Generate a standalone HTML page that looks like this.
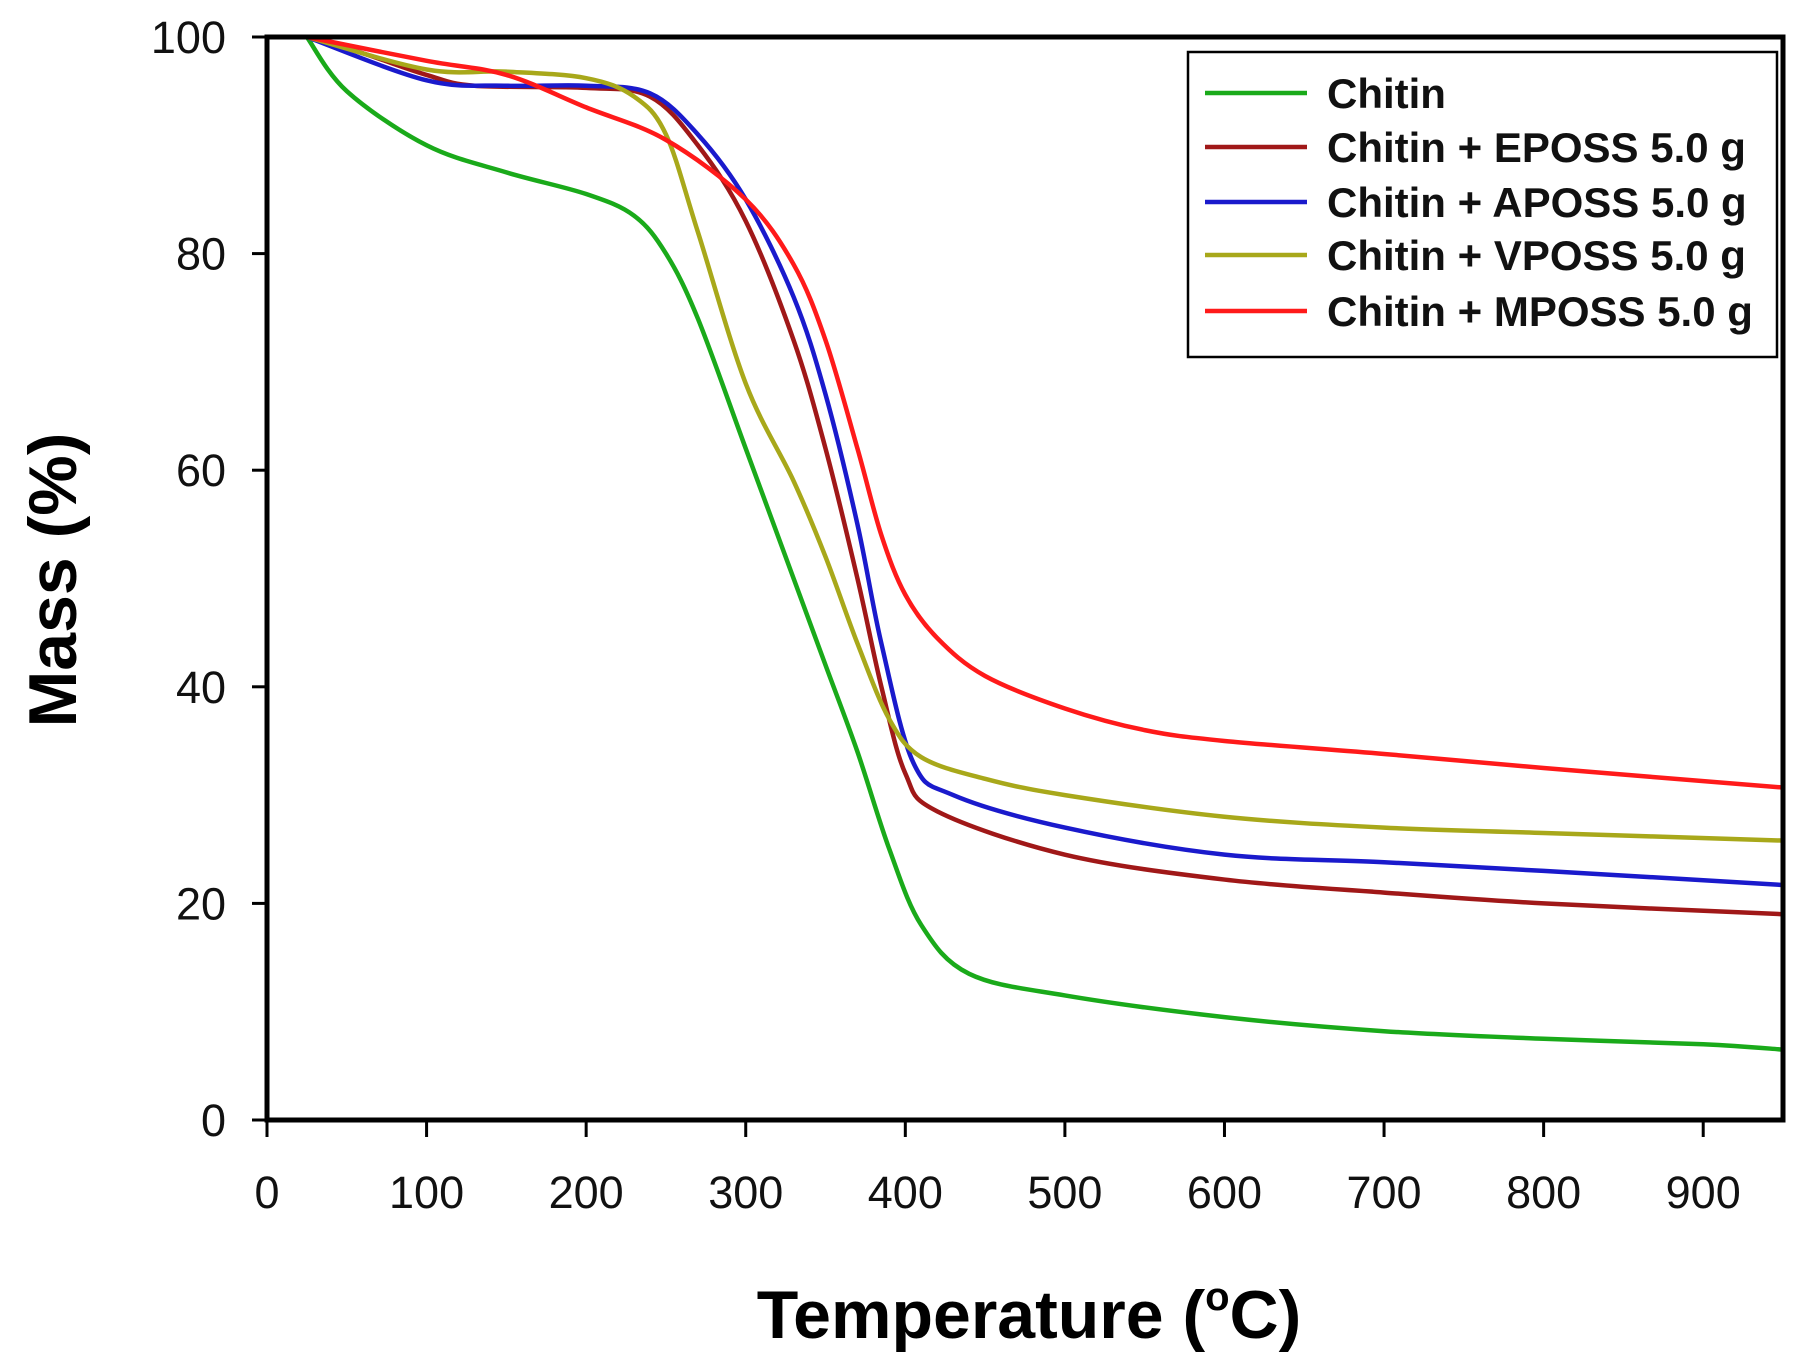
<!DOCTYPE html>
<html><head><meta charset="utf-8"><style>
html,body{margin:0;padding:0;background:#fff;}
svg{display:block;font-family:"Liberation Sans",Arial,sans-serif;}
</style></head><body>
<svg id="chart" width="1808" height="1366" viewBox="0 0 1808 1366">
<g id="plot"></g>
</svg>
<script>
const xTicks=[0,100,200,300,400,500,600,700,800,900];
const yTicks=[0,20,40,60,80,100];
const seriesNames=["Chitin","Chitin + EPOSS 5.0 g","Chitin + APOSS 5.0 g","Chitin + VPOSS 5.0 g","Chitin + MPOSS 5.0 g"];
const chitinT=[25,50,100,150,200,230,250,270,300,330,350,370,390,410,440,500,600,700,800,900,950];
const chitinM=[100,95,90,87.5,85.5,83.5,80,74,62,50,42,34,25,18,13.5,11.5,9.5,8.2,7.5,7,6.5];
const epossT=[25,60,100,130,200,240,270,300,330,350,370,385,400,420,500,600,700,800,950];
const epossM=[100,98.5,96.5,95.5,95.3,94.5,90,83,72,62,50,40,32,28.5,24.5,22.2,21,20,19];
const apossT=[25,100,150,200,240,270,300,330,350,370,385,405,430,500,600,700,800,950];
const apossM=[100,96,95.5,95.5,94.8,91,85,76,67,55,44,33,30,27,24.5,23.8,23,21.7];
const vpossT=[25,100,150,200,230,250,270,300,330,350,370,390,410,450,500,600,700,800,950];
const vpossM=[100,97,96.8,96.2,94.5,91,82,68,59,52,44,37,33.5,31.5,30,28,27,26.5,25.8];
const mpossT=[25,100,150,200,250,300,330,350,370,385,400,420,450,500,550,600,700,800,950];
const mpossM=[100,97.8,96.5,93.5,90.5,85,79,72,62,54,48.5,44.5,41,38,36,35,33.8,32.5,30.7];

const X0=267,X1=1783,Y0=1120,Y1=37,XMAX=950;
const xs=v=>X0+(v/XMAX)*(X1-X0);
const ys=v=>Y0-(v/100)*(Y0-Y1);
const NS="http://www.w3.org/2000/svg";
const svg=document.getElementById('chart');
function mk(t,a,p){const e=document.createElementNS(NS,t);for(const k in a)e.setAttribute(k,a[k]);(p||svg).appendChild(e);return e;}
function path(T,M){const P=T.map((t,i)=>[xs(t),ys(M[i])]);let d="M"+P[0][0]+","+P[0][1];
for(let i=0;i<P.length-1;i++){const p0=P[i-1]||P[i],p1=P[i],p2=P[i+1],p3=P[i+2]||p2;
d+=" C"+(p1[0]+(p2[0]-p0[0])/6)+","+(p1[1]+(p2[1]-p0[1])/6)+" "+(p2[0]-(p3[0]-p1[0])/6)+","+(p2[1]-(p3[1]-p1[1])/6)+" "+p2[0]+","+p2[1];}return d;}
const colors=["#1aaa1a","#a01818","#1a1acc","#a8a81a","#ff1a1a"];
const data=[[chitinT,chitinM],[epossT,epossM],[apossT,apossM],[vpossT,vpossM],[mpossT,mpossM]];
const keys=["chitin","eposs","aposs","vposs","mposs"];
const plot=document.getElementById('plot');
data.forEach((s,i)=>{const e=mk('path',{d:path(s[0],s[1]),fill:'none',stroke:colors[i],'stroke-width':4.5},plot);

});
const fr=mk('rect',{x:X0,y:Y1,width:X1-X0,height:Y0-Y1,fill:'none',stroke:'#000','stroke-width':5});


xTicks.forEach(v=>{const t=mk('line',{x1:xs(v),x2:xs(v),y1:Y0,y2:Y0+17,stroke:'#000','stroke-width':3});


const l=mk('text',{x:xs(v),y:1208,'text-anchor':'middle','font-size':45,fill:'#111'});l.textContent=v;

});
yTicks.forEach(v=>{const t=mk('line',{x1:X0-15,x2:X0,y1:ys(v),y2:ys(v),stroke:'#000','stroke-width':3});


const l=mk('text',{x:226,y:ys(v)+16,'text-anchor':'end','font-size':45,fill:'#111'});l.textContent=v;

});
const lb=mk('rect',{x:1188,y:52,width:589,height:305,fill:'#fff',stroke:'#000','stroke-width':2.5});


const ly=[93,147,202,255,311];
seriesNames.forEach((n,i)=>{const ln=mk('line',{x1:1205,x2:1307,y1:ly[i],y2:ly[i],stroke:colors[i],'stroke-width':4.5});


const t=mk('text',{x:1327,y:ly[i]+15,'font-size':42,'font-weight':'bold',fill:'#111'});t.textContent=n;

});
</script>
<svg style="position:absolute;left:0;top:0" width="1808" height="1366">
<text x="1029" y="1338" text-anchor="middle" font-size="68" font-weight="bold" font-family="Liberation Sans,Arial,sans-serif">Temperature (<tspan font-size="40" dy="-28">o</tspan><tspan dy="28">C)</tspan></text>
<text transform="translate(76,580) rotate(-90)" text-anchor="middle" font-size="68" font-weight="bold" font-family="Liberation Sans,Arial,sans-serif">Mass (%)</text>
</svg>
</body></html>
